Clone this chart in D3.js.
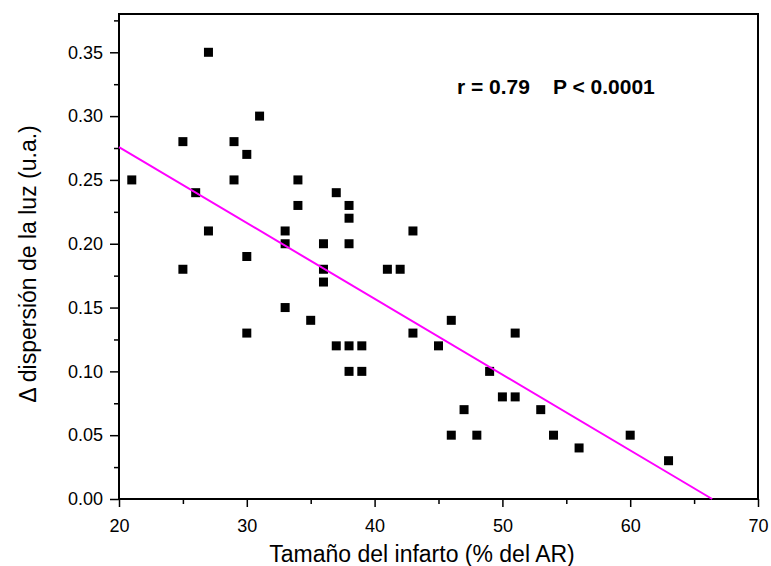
<!DOCTYPE html>
<html>
<head>
<meta charset="utf-8">
<script src="https://cdn.jsdelivr.net/npm/d3@7"></script>
<style>
  html, body { margin: 0; padding: 0; background: #fff; }
  svg { display: block; font-family: "Liberation Sans", Arial, sans-serif; }
</style>
</head>
<body>
<svg id="chart" width="771" height="566"></svg>
<script>
// Infarct size (% of area at risk) for each animal
const infarctSize = [
  27, 31, 25, 29, 30, 21, 29, 34, 26, 37, 34, 38, 38, 27, 33, 43,
  33, 36, 38, 30, 25, 36, 36, 41, 42, 33, 35, 30, 37, 38, 39, 43,
  45, 38, 39, 46, 51, 49, 50, 51, 47, 53, 46, 48, 54, 56, 60, 63
];
// Change in light scattering (a.u.) for the same animals
const scatterDelta = [
  0.35, 0.30, 0.28, 0.28, 0.27, 0.25, 0.25, 0.25, 0.24, 0.24, 0.23, 0.23, 0.22, 0.21, 0.21, 0.21,
  0.20, 0.20, 0.20, 0.19, 0.18, 0.18, 0.17, 0.18, 0.18, 0.15, 0.14, 0.13, 0.12, 0.12, 0.12, 0.13,
  0.12, 0.10, 0.10, 0.14, 0.13, 0.10, 0.08, 0.08, 0.07, 0.07, 0.05, 0.05, 0.05, 0.04, 0.05, 0.03
];
// Linear fit: y = fitIntercept + fitSlope * x
const fitIntercept = 0.3945;
const fitSlope = -0.00594;

const xTicks = [20, 30, 40, 50, 60, 70];
const xMinorTicks = [25, 35, 45, 55, 65];
const yTicks = [0.00, 0.05, 0.10, 0.15, 0.20, 0.25, 0.30, 0.35];
const yMinorTicks = [0.025, 0.075, 0.125, 0.175, 0.225, 0.275, 0.325, 0.375];

const statText1 = "r = 0.79";
const statText2 = "P < 0.0001";
const xTitle = "Tamaño del infarto (% del AR)";
const yTitle = "\u0394 dispersión de la luz (u.a.)";

const svg = d3.select("#chart");
const plotLeft = 119, plotRight = 758, plotTop = 14, plotBottom = 499;

const x = d3.scaleLinear().domain([20, 70]).range([plotLeft, plotRight]);
const y = d3.scaleLinear().domain([0, 0.38]).range([plotBottom, plotTop]);

// Frame
svg.append("rect")
  .attr("x", plotLeft).attr("y", plotTop)
  .attr("width", plotRight - plotLeft).attr("height", plotBottom - plotTop)
  .attr("fill", "none").attr("stroke", "#000").attr("stroke-width", 2);

// Bottom axis
const xAxis = svg.append("g").attr("transform", `translate(0,${plotBottom})`);
xAxis.call(d3.axisBottom(x).tickValues(xTicks).tickFormat(d3.format("d"))
  .tickSize(8).tickPadding(12));
xAxis.append("g").call(d3.axisBottom(x).tickValues(xMinorTicks).tickFormat("").tickSize(5));
xAxis.selectAll(".domain").remove();
xAxis.selectAll("line").attr("stroke", "#000").attr("stroke-width", 1.5);
xAxis.selectAll("text").attr("font-size", 18).attr("fill", "#000")
  .attr("font-family", "Liberation Sans, Arial, sans-serif");

// Left axis
const yAxis = svg.append("g").attr("transform", `translate(${plotLeft},0)`);
yAxis.call(d3.axisLeft(y).tickValues(yTicks).tickFormat(d3.format(".2f"))
  .tickSize(9).tickPadding(7));
yAxis.append("g").call(d3.axisLeft(y).tickValues(yMinorTicks).tickFormat("").tickSize(5));
yAxis.selectAll(".domain").remove();
yAxis.selectAll("line").attr("stroke", "#000").attr("stroke-width", 1.5);
yAxis.selectAll("text").attr("font-size", 18).attr("fill", "#000")
  .attr("font-family", "Liberation Sans, Arial, sans-serif");

// Data points
const sq = 9;
svg.append("g").selectAll("rect")
  .data(d3.range(infarctSize.length))
  .join("rect")
  .attr("x", i => x(infarctSize[i]) - sq / 2)
  .attr("y", i => y(scatterDelta[i]) - sq / 2)
  .attr("width", sq).attr("height", sq)
  .attr("fill", "#000");

// Regression line, from the left edge to where it meets zero
const xEnd = -fitIntercept / fitSlope;
svg.append("line")
  .attr("x1", x(20)).attr("y1", y(fitIntercept + fitSlope * 20))
  .attr("x2", x(xEnd)).attr("y2", y(fitIntercept + fitSlope * xEnd))
  .attr("stroke", "#ff00ff").attr("stroke-width", 2);

// Statistics
svg.append("text").attr("x", 457).attr("y", 94)
  .attr("font-size", 21).attr("font-weight", "bold").text(statText1);
svg.append("text").attr("x", 553).attr("y", 94)
  .attr("font-size", 21).attr("font-weight", "bold").text(statText2);

// Axis titles
svg.append("text").attr("x", 422).attr("y", 562)
  .attr("text-anchor", "middle").attr("font-size", 23).text(xTitle);
svg.append("text")
  .attr("transform", "translate(36,264) rotate(-90)")
  .attr("text-anchor", "middle").attr("font-size", 23).text(yTitle);
</script>
</body>
</html>
